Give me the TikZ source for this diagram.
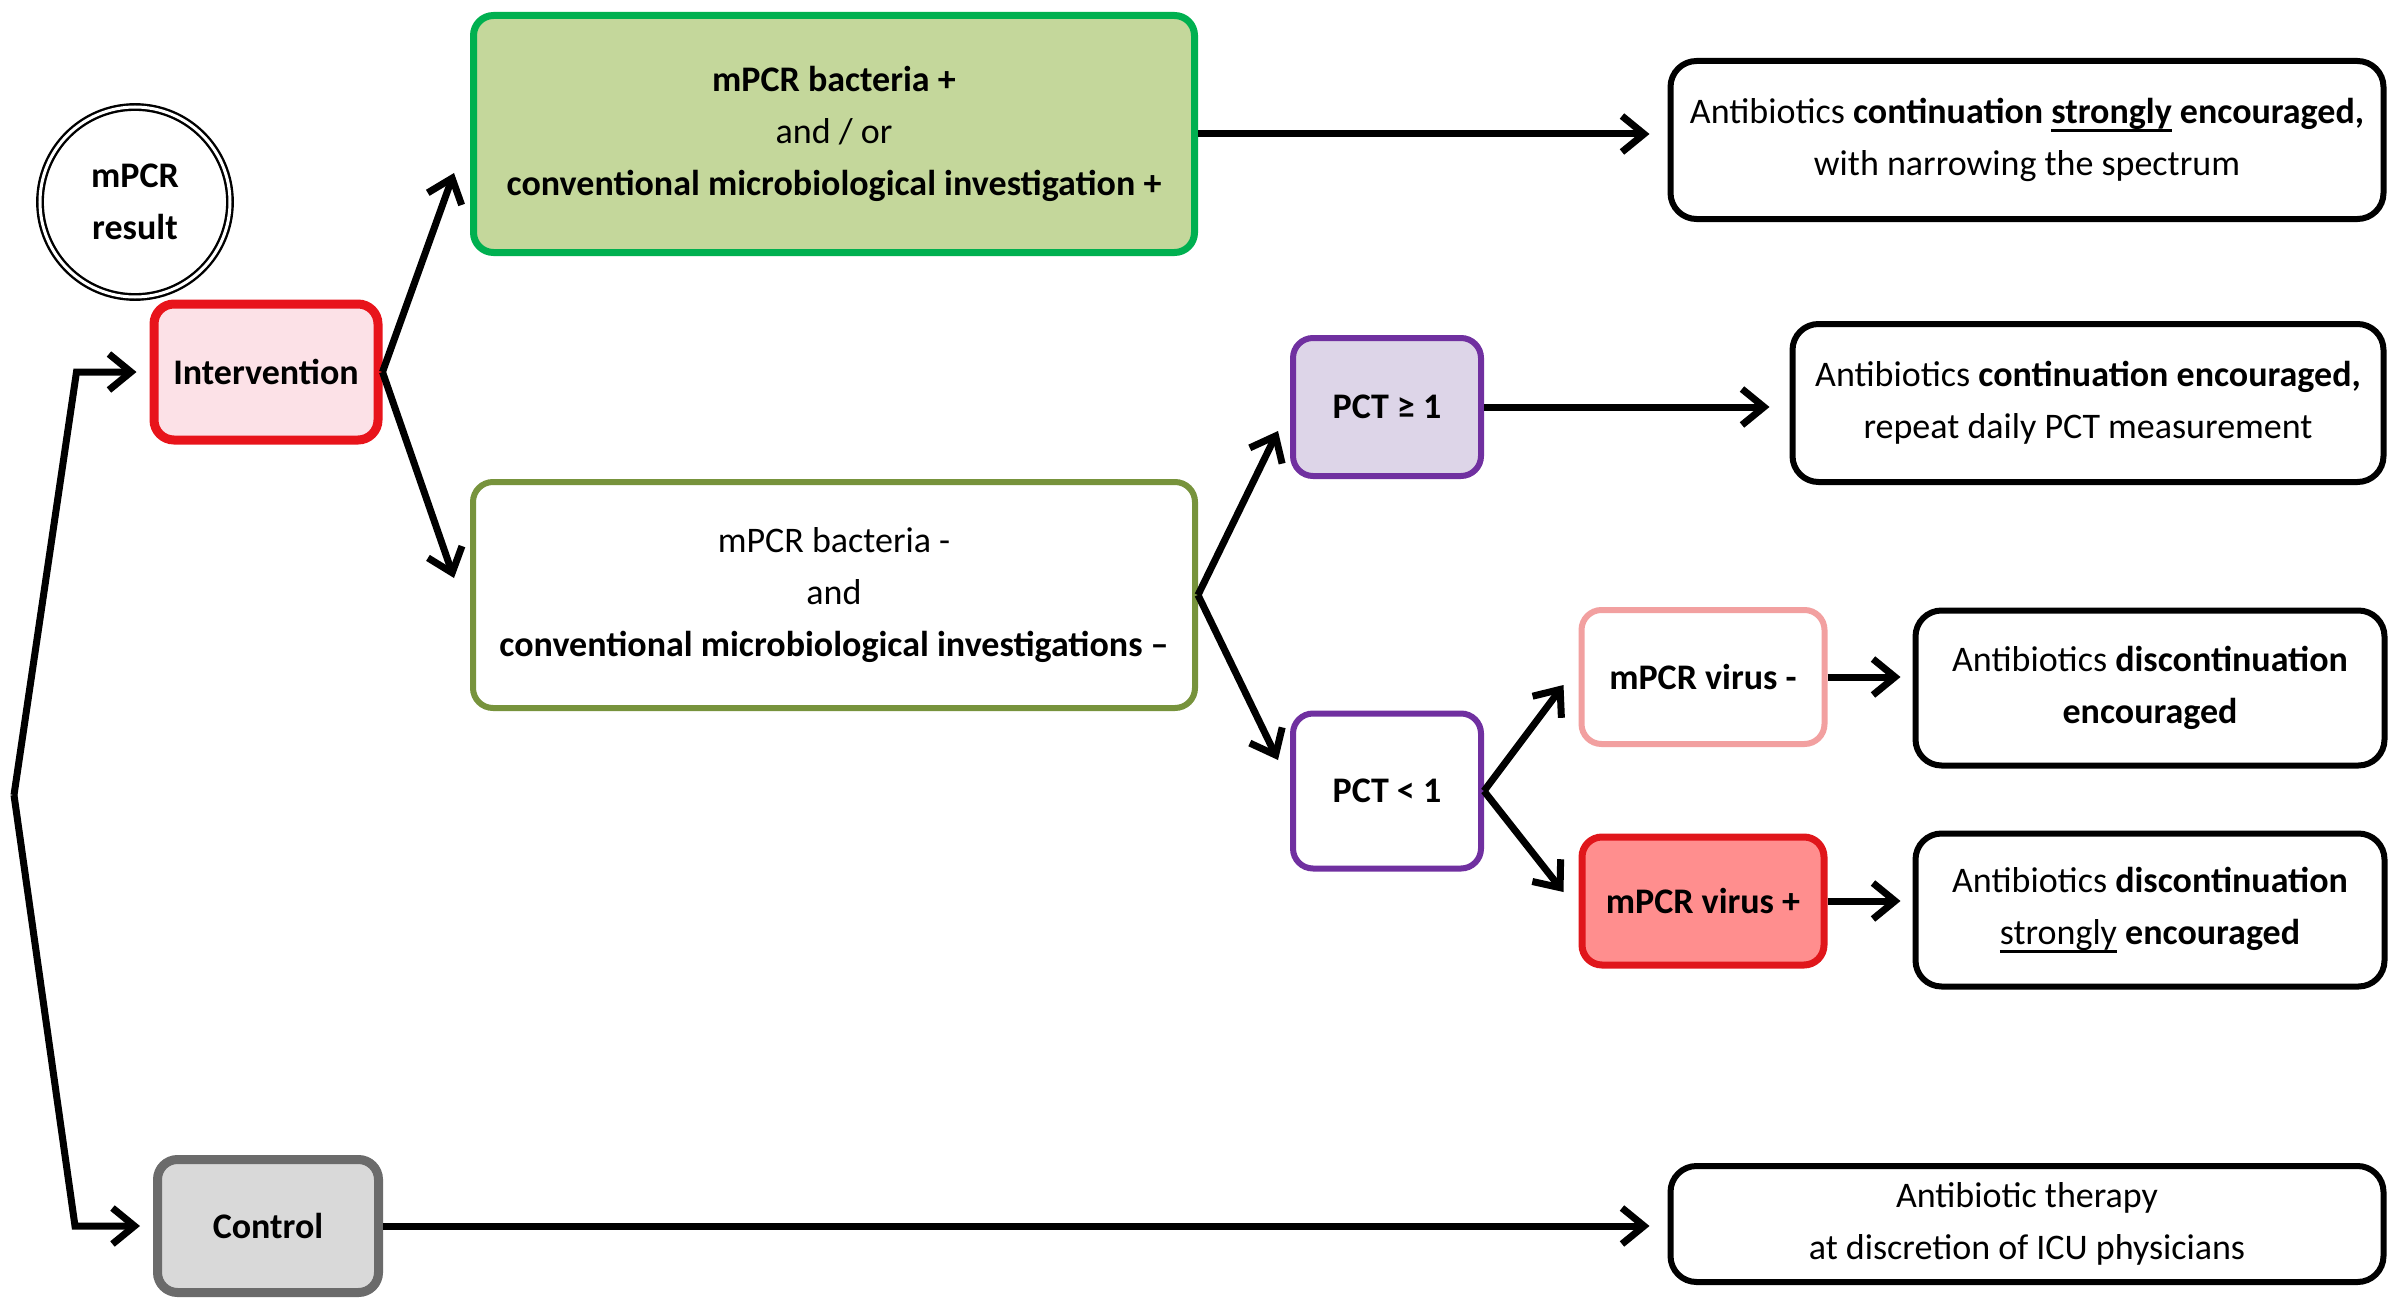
\documentclass[tikz,border=0pt]{standalone}
\usepackage{fontspec}
\setmainfont{Carlito}
\usetikzlibrary{arrows.meta,calc}

\definecolor{intred}{HTML}{E8141B}
\definecolor{intpink}{HTML}{FCE1E7}
\definecolor{ctlgray}{HTML}{6B6B6B}
\definecolor{ctlfill}{HTML}{D9D9D9}
\definecolor{posgreen}{HTML}{00B050}
\definecolor{posfill}{HTML}{C4D79B}
\definecolor{negolive}{HTML}{77933C}
\definecolor{pctpurple}{HTML}{7030A0}
\definecolor{pctfill}{HTML}{DDD5E8}
\definecolor{vnegpink}{HTML}{F2A0A0}
\definecolor{vposred}{HTML}{E0161B}
\definecolor{vposfill}{HTML}{FF8E8E}

\newcommand\labelsize{\fontsize{36}{52}\selectfont}
% thick underline drawn just below the baseline
\newcommand\thickul[1]{\setbox0\hbox{#1}\rlap{\rule[-8pt]{\wd0}{3pt}}\box0\relax}

\begin{document}
\begin{tikzpicture}[x=1pt,y=-1pt,
  every node/.style={font=\labelsize, align=center, inner sep=0pt},
  boldlabel/.style={font=\labelsize\bfseries},
  box/.style={rectangle, rounded corners=20pt, line width=6pt},
  outbox/.style={box, draw=black, fill=white, rounded corners=26pt},
  arr/.style={-{Straight Barb[length=22pt,width=36pt]}, line width=7pt, black},
]
\useasboundingbox (0,0) rectangle (2399,1303);

% start circle
\node[circle, draw=black, double=white, line width=2.4pt, double distance=3pt,
      minimum size=190pt, boldlabel] (res) at (135,202) {mPCR\\result};

% study arms
\node[box, draw=intred, fill=intpink, line width=9pt, minimum width=224pt,
      minimum height=136pt, boldlabel] (int) at (266,372) {Intervention};
\node[box, draw=ctlgray, fill=ctlfill, line width=9pt, minimum width=221pt,
      minimum height=133pt, boldlabel] (ctl) at (268,1226) {Control};

% bacteriology results
\node[box, draw=posgreen, fill=posfill, line width=7pt, minimum width=721pt,
      minimum height=237pt] (pos) at (834,134)
  {\textbf{mPCR bacteria +}\\and / or\\\textbf{conventional microbiological investigation +}};
\node[box, draw=negolive, fill=white, minimum width=722pt,
      minimum height=226pt] (neg) at (834,595)
  {mPCR bacteria -\\and\\\textbf{conventional microbiological investigations –}};

% procalcitonin
\node[box, draw=pctpurple, fill=pctfill, minimum width=188pt, minimum height=138pt,
      boldlabel] (pcth) at (1387,407) {PCT ≥ 1};
\node[box, draw=pctpurple, fill=white, minimum width=188pt, minimum height=155pt,
      boldlabel] (pctl) at (1387,791) {PCT < 1};

% viral results
\node[box, draw=vnegpink, fill=white, minimum width=243pt, minimum height=134pt,
      boldlabel] (vneg) at (1703,677) {mPCR virus -};
\node[box, draw=vposred, fill=vposfill, line width=7pt, minimum width=242pt,
      minimum height=128pt, boldlabel] (vpos) at (1703,901) {mPCR virus +};

% recommendations
\node[outbox, minimum width=713pt, minimum height=158pt] (oA) at (2027,140)
  {Antibiotics \textbf{continuation \thickul{strongly} encouraged,}\\with narrowing the spectrum};
\node[outbox, minimum width=591pt, minimum height=158pt] (oB) at (2088,403)
  {Antibiotics \textbf{continuation encouraged,}\\repeat daily PCT measurement};
\node[outbox, minimum width=469pt, minimum height=155pt] (oC) at (2150,688)
  {Antibiotics \textbf{discontinuation}\\\textbf{encouraged}};
\node[outbox, minimum width=469pt, minimum height=153pt] (oD) at (2150,910)
  {Antibiotics \textbf{discontinuation}\\\thickul{strongly} \textbf{encouraged}};
\node[outbox, minimum width=713pt, minimum height=116pt] (oE) at (2027,1224)
  {Antibiotic therapy\\at discretion of ICU physicians};

% randomisation branches
\coordinate (split) at (14,795);
\draw[arr, shorten >=13pt] (split) -- ([xshift=-73pt]int.west) -- (int.west);
\draw[arr, shorten >=13pt] (split) -- ([xshift=-78pt]ctl.west) -- (ctl.west);

% connectors
\draw[arr] (int.east) -- ($(pos.west)+(-16,39)$);
\draw[arr] (int.east) -- ($(neg.west)+(-16,-17)$);
\draw[arr, shorten >=18pt] (pos.east) -- (pos.east -| oA.west);
\draw[arr] (neg.east) -- ($(pcth.west)+(-12,24)$);
\draw[arr] (neg.east) -- ($(pctl.west)+(-12,-31)$);
\draw[arr, shorten >=20pt] (pcth.east) -- (pcth.east -| oB.west);
\draw[arr] (pctl.east) -- ($(vneg.west)+(-15,8)$);
\draw[arr] (pctl.east) -- ($(vpos.west)+(-15,-9)$);
\draw[arr, shorten >=12pt] (vneg.east) -- (vneg.east -| oC.west);
\draw[arr, shorten >=12pt] (vpos.east) -- (vpos.east -| oD.west);
\draw[arr, shorten >=18pt] (ctl.east) -- (ctl.east -| oE.west);
\end{tikzpicture}
\end{document}
